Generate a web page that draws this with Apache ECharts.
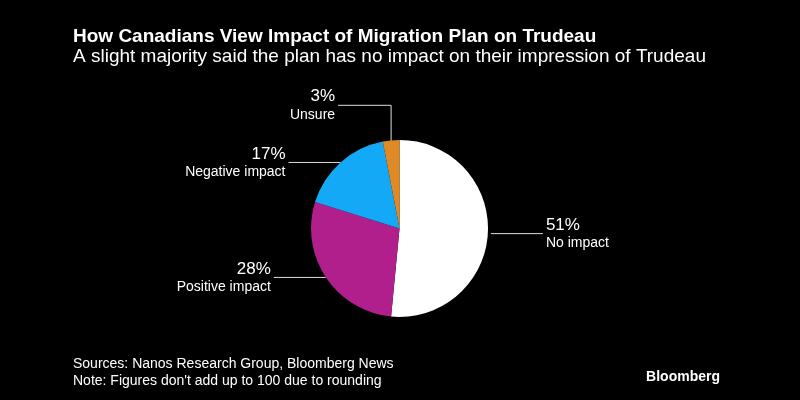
<!DOCTYPE html>
<html>
<head>
<meta charset="utf-8">
<script src="https://cdn.jsdelivr.net/npm/echarts@6/dist/echarts.min.js"></script>
<style>
html,body{margin:0;padding:0;background:#000;}
#chart{width:800px;height:400px;}
</style>
</head>
<body>
<div id="chart"></div>
<script>
const categories = ['No impact', 'Positive impact', 'Negative impact', 'Unsure'];
const values = [51, 28, 17, 3];
const colors = ['#ffffff', '#b01f8c', '#13a9f6', '#e08a25'];

const titleText = 'How Canadians View Impact of Migration Plan on Trudeau';
const subtitleText = 'A slight majority said the plan has no impact on their impression of Trudeau';
const sourceText = 'Sources: Nanos Research Group, Bloomberg News';
const noteText = "Note: Figures don't add up to 100 due to rounding";
const brandText = 'Bloomberg';

const FONT = '"Liberation Sans", Arial, Helvetica, sans-serif';
const chart = echarts.init(document.getElementById('chart'));

const leftSide = [false, true, true, true];

const option = {
  backgroundColor: '#000000',
  animation: false,
  title: [
    { text: titleText, left: 73, top: 27, padding: 0, textStyle: { color: '#ffffff', fontFamily: FONT, fontWeight: 'bold', fontSize: 19 } },
    { text: subtitleText, left: 73, top: 47, padding: 0, textStyle: { color: '#ffffff', fontFamily: FONT, fontWeight: 'normal', fontSize: 19 } },
    { text: sourceText, left: 73, top: 357, padding: 0, textStyle: { color: '#ffffff', fontFamily: FONT, fontWeight: 'normal', fontSize: 14 } },
    { text: noteText, left: 73, top: 374, padding: 0, textStyle: { color: '#ffffff', fontFamily: FONT, fontWeight: 'normal', fontSize: 14 } },
    { text: brandText, right: 80, top: 370, padding: 0, textStyle: { color: '#ffffff', fontFamily: FONT, fontWeight: 'bold', fontSize: 14 } }
  ],
  series: [{
    type: 'pie',
    center: ['49.94%', '57.1%'],
    radius: 88.5,
    startAngle: 90,
    clockwise: true,
    avoidLabelOverlap: false,
    itemStyle: { borderWidth: 0 },
    label: {
      show: true,
      position: 'outside',
      formatter: function (p) { return '{v|' + p.value + '%}\n{n|' + p.name + '}'; },
      color: '#ffffff',
      fontFamily: FONT,
      rich: {
        v: { fontSize: 17, lineHeight: 19, color: '#ffffff', fontFamily: FONT },
        n: { fontSize: 14, lineHeight: 17, color: '#ffffff', fontFamily: FONT }
      }
    },
    labelLine: { show: true, length: 0, length2: 52, smooth: false, lineStyle: { color: '#dddddd', width: 1 } },
    labelLayout: function (p) {
      const pts = p.labelLinePoints;
      if (!pts) return {};
      const e = pts[0];
      const i = p.dataIndex;
      if (i === 3) {
        const yTop = e[1] - 35;
        const xEnd = e[0] - 53;
        return {
          x: xEnd - 3, y: yTop, align: 'right', verticalAlign: 'middle',
          labelLinePoints: [[e[0], e[1] + 1], [e[0], yTop], [xEnd, yTop]]
        };
      }
      if (leftSide[i]) {
        const xEnd = e[0] - 52;
        return {
          x: xEnd - 3, y: e[1], align: 'right', verticalAlign: 'middle',
          labelLinePoints: [e, [xEnd, e[1]]]
        };
      }
      const s = e[0] + 3;
      const xEnd = s + 52;
      return {
        x: xEnd + 3, y: e[1] + 1, align: 'left', verticalAlign: 'middle',
        labelLinePoints: [[s, e[1] + 1], [xEnd, e[1] + 1]]
      };
    },
    data: categories.map(function (c, i) {
      return {
        name: c,
        value: values[i],
        itemStyle: { color: colors[i] },
        label: leftSide[i]
          ? { align: 'right', rich: { v: { align: 'right' }, n: { align: 'right' } } }
          : { align: 'left', rich: { v: { align: 'left' }, n: { align: 'left' } } }
      };
    })
  }]
};
chart.setOption(option);
</script>
</body>
</html>
